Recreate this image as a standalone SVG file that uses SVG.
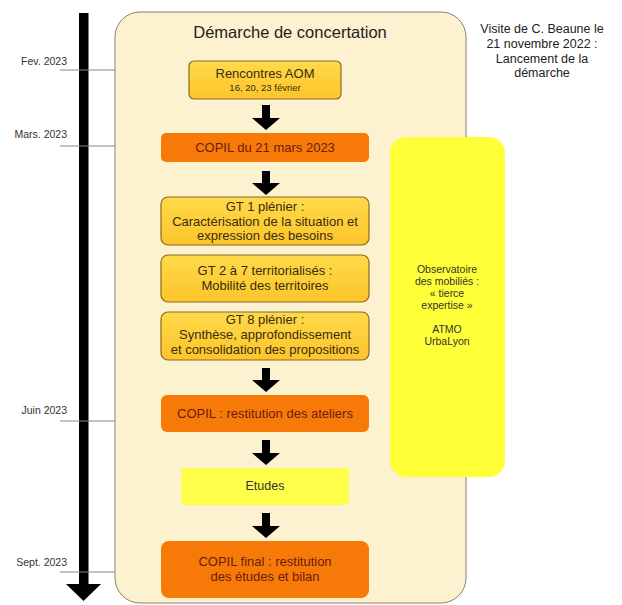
<svg xmlns="http://www.w3.org/2000/svg" width="622" height="605" viewBox="0 0 622 605">
<style>
text{font-family:"Liberation Sans",Arial,sans-serif;text-anchor:middle}
.month{font-size:10.5px;fill:#333;text-anchor:end}
.tick{stroke:#888;stroke-width:1;fill:none}
.gt{fill:url(#gold);stroke:#8a6a20;stroke-width:1.2}
.gtt{font-size:13px;fill:#3a2c10}
.copil{fill:#f77a08}
.copt{font-size:13px;fill:#6a1c10}
.obs{font-size:10.5px;fill:#333}
.vis{font-size:12.5px;fill:#222}
.arr{fill:#000}
</style>
<defs>
<linearGradient id="gold" x1="0" y1="0" x2="0" y2="1">
<stop offset="0" stop-color="#ffd94a"/>
<stop offset="1" stop-color="#fcc52a"/>
</linearGradient>
</defs>
<rect width="622" height="605" fill="#fff"/>
<g id="timeline">
<rect x="79" y="13" width="9.5" height="572" fill="#000"/>
<polygon points="66,584 101,584 83.5,601" fill="#000"/>
<line class="tick" x1="60" y1="70" x2="115" y2="70"/>
<line class="tick" x1="60" y1="146" x2="115" y2="146"/>
<line class="tick" x1="60" y1="421" x2="115" y2="421"/>
<line class="tick" x1="60" y1="572" x2="115" y2="572"/>
<text class="month" x="67" y="65">Fev. 2023</text>
<text class="month" x="67" y="138">Mars. 2023</text>
<text class="month" x="67" y="414">Juin 2023</text>
<text class="month" x="67" y="566">Sept. 2023</text>
</g>
<g id="demarche">
<rect x="115" y="12" width="351" height="591" rx="25" ry="25" fill="#fdf2cf" stroke="#8a8070" stroke-width="1"/>
<text x="290" y="38" font-size="16.5" fill="#222">Démarche de concertation</text>
</g>
<g id="visite">
<text class="vis" x="542" y="33">Visite de C. Beaune le</text>
<text class="vis" x="542" y="48">21 novembre 2022 :</text>
<text class="vis" x="542" y="63">Lancement de la</text>
<text class="vis" x="542" y="77">démarche</text>
</g>
<g id="observatoire">
<rect x="390" y="137" width="115" height="340" rx="16" ry="16" fill="#ffff38"/>
<text class="obs" x="447" y="273">Observatoire</text>
<text class="obs" x="447" y="285">des mobiliés :</text>
<text class="obs" x="447" y="297">« tierce</text>
<text class="obs" x="447" y="309">expertise »</text>
<text class="obs" x="447" y="333">ATMO</text>
<text class="obs" x="447" y="345">UrbaLyon</text>
</g>
<g id="rencontres">
<rect class="gt" x="189" y="61" width="152" height="38" rx="5"/>
<text class="gtt" x="265" y="78">Rencontres AOM</text>
<text x="265" y="91" font-size="9.5" fill="#3a2c10">16, 20, 23 février</text>
</g>
<g id="copil1">
<rect class="copil" x="161" y="133" width="208" height="29" rx="5"/>
<text class="copt" x="265" y="152">COPIL du 21 mars 2023</text>
</g>
<g id="gt1">
<rect class="gt" x="161" y="197" width="208" height="48" rx="7"/>
<text class="gtt" x="265" y="211">GT 1 plénier :</text>
<text class="gtt" x="265" y="226">Caractérisation de la situation et</text>
<text class="gtt" x="265" y="240">expression des besoins</text>
</g>
<g id="gt2">
<rect class="gt" x="161" y="255" width="208" height="47" rx="7"/>
<text class="gtt" x="265" y="275">GT 2 à 7 territorialisés :</text>
<text class="gtt" x="265" y="290">Mobilité des territoires</text>
</g>
<g id="gt8">
<rect class="gt" x="161" y="312" width="208" height="48" rx="7"/>
<text class="gtt" x="265" y="324">GT 8 plénier :</text>
<text class="gtt" x="265" y="339">Synthèse, approfondissement</text>
<text class="gtt" x="265" y="354">et consolidation des propositions</text>
</g>
<g id="copil2">
<rect class="copil" x="161" y="395" width="208" height="37" rx="6"/>
<text class="copt" x="265" y="418">COPIL : restitution des ateliers</text>
</g>
<g id="etudes">
<rect x="181" y="468" width="168" height="37" rx="4" fill="#ffff4a"/>
<text x="265" y="490" font-size="12.5" fill="#333">Etudes</text>
</g>
<g id="copil3">
<rect class="copil" x="161" y="541" width="208" height="57" rx="8"/>
<text class="copt" x="265" y="566">COPIL final : restitution</text>
<text class="copt" x="265" y="581">des études et bilan</text>
</g>
<g id="connectors">
<polygon class="arr" points="262,105 270,105 270,118 280,118 266,130 252,118 262,118"/>
<polygon class="arr" points="262,171 270,171 270,183 280,183 266,195 252,183 262,183"/>
<polygon class="arr" points="262,368 270,368 270,380 280,380 266,392 252,380 262,380"/>
<polygon class="arr" points="262,440 270,440 270,453 280,453 266,465 252,453 262,453"/>
<polygon class="arr" points="262,513 270,513 270,526 280,526 266,538 252,526 262,526"/>
</g>
</svg>
